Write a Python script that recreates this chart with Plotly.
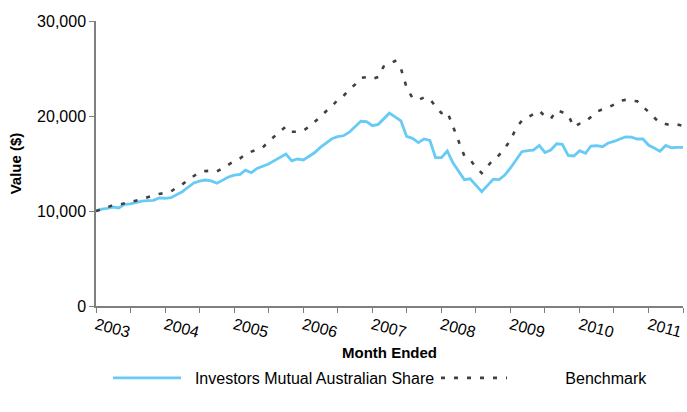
import pandas as pd
import plotly.graph_objects as go

# Monthly values (Jan 2003 .. Jul 2011), value of $10,000 invested
fund_values = [
    10000, 10200, 10280, 10420, 10320, 10700, 10740, 10900, 11030, 11090,
    11120, 11380, 11340, 11400, 11680, 12030, 12500, 12950, 13150, 13260,
    13160, 12920, 13250, 13580, 13780, 13860, 14300, 14030, 14480, 14700,
    14950, 15300, 15650, 16000, 15280, 15470, 15370, 15750, 16130, 16700,
    17100, 17600, 17820, 17920, 18300, 18900, 19450, 19400, 18980, 19120,
    19700, 20300, 19900, 19480, 17850, 17650, 17200, 17580, 17420, 15620,
    15610, 16320, 15100, 14200, 13300, 13390, 12700, 12030, 12700, 13350,
    13300, 13790, 14560, 15500, 16240, 16350, 16400, 16900, 16160, 16420,
    17080, 17020, 15840, 15790, 16350, 16070, 16840, 16870, 16770, 17160,
    17320, 17580, 17790, 17770, 17580, 17580, 16920, 16600, 16280, 16900,
    16660, 16700, 16700,
]
benchmark_values = [
    10000, 10200, 10400, 10600, 10650, 10800, 10870, 11050, 11250, 11450,
    11650, 11800, 11900, 12050, 12450, 12800, 13250, 13700, 14100, 14200,
    14250, 14150, 14550, 14900, 15250, 15550, 15950, 16250, 16450, 16700,
    17300, 17800, 18400, 18900, 18350, 18350, 18450, 18900, 19350, 19900,
    20500, 21000, 21700, 22100, 22800, 23300, 24000, 24100, 23900, 24100,
    25200, 25500, 25800, 25000, 23000, 21900, 21700, 21950, 21800, 21000,
    20300, 20450, 19000, 17300, 15800, 15400, 14600, 14000, 14700, 15400,
    15900, 16600, 17500, 18800, 19500, 19850, 20200, 20550, 20000, 19700,
    20600, 20400, 20100, 18850, 19200, 19400, 19900, 20450, 20700, 20900,
    21200, 21600, 21700, 21600, 21550, 21000, 20400, 19800, 19250, 19150,
    19000, 19100, 18950,
]
months = pd.date_range("2003-01-01", periods=len(fund_values), freq="MS")

tick_dates = pd.date_range("2003-01-01", "2011-07-01", freq="6MS")
tick_labels = [str(d.year) if d.month == 1 else "" for d in tick_dates]
y_ticks = [0, 10000, 20000, 30000]

FONT = "Liberation Sans, Arial, sans-serif"
AXIS_COLOR = "#7f7f7f"
W, H = 687, 412

fig = go.Figure()
fig.add_trace(go.Scatter(
    x=months, y=fund_values, mode="lines",
    name="\u00a0\u00a0Investors Mutual Australian Share",
    line=dict(color="#68cbf5", width=2.8),
    legend="legend",
))
fig.add_trace(go.Scatter(
    x=months, y=benchmark_values, mode="lines",
    name="\u00a0" * 12 + "Benchmark",
    line=dict(color="#404040", width=2.6, dash="4px,9px"),
    legend="legend2",
))

legend_common = dict(
    orientation="h", xref="container", yref="container",
    xanchor="left", yanchor="middle",
    font=dict(size=16, family=FONT),
    bgcolor="rgba(0,0,0,0)",
)

fig.update_layout(
    width=W, height=H,
    margin=dict(l=96, r=4, t=21, b=106, autoexpand=False),
    paper_bgcolor="white", plot_bgcolor="white",
    font=dict(family=FONT, color="#000000", size=16),
    showlegend=True,
    legend=dict(x=108 / W, y=1 - 378 / H, itemwidth=68, **legend_common),
    legend2=dict(x=436 / W, y=1 - 378 / H, itemwidth=66, **legend_common),
    xaxis=dict(
        range=[months[0], months[-1]],
        tickvals=list(tick_dates), ticktext=tick_labels,
        tickangle=15,
        ticks="outside", ticklen=5, tickcolor=AXIS_COLOR,
        showline=True, linecolor=AXIS_COLOR, linewidth=1.5,
        showgrid=False, zeroline=False, automargin=False,
        tickfont=dict(size=16),
        ticklabelstandoff=-3,
        title=dict(text="<b>Month Ended</b>", font=dict(size=15), standoff=10),
    ),
    yaxis=dict(
        range=[0, 30000],
        tickvals=y_ticks, tickformat=",",
        ticks="outside", ticklen=5, tickcolor=AXIS_COLOR,
        showline=True, linecolor=AXIS_COLOR, linewidth=1.5,
        showgrid=False, zeroline=False, automargin=False,
        tickfont=dict(size=16),
        title=dict(text="<b>Value ($)</b>", font=dict(size=15), standoff=12),
    ),
)

fig.write_html(
    "out.html",
    config={"displayModeBar": False},
    post_script="document.body.style.margin='0';document.body.style.overflow='hidden';",
)
